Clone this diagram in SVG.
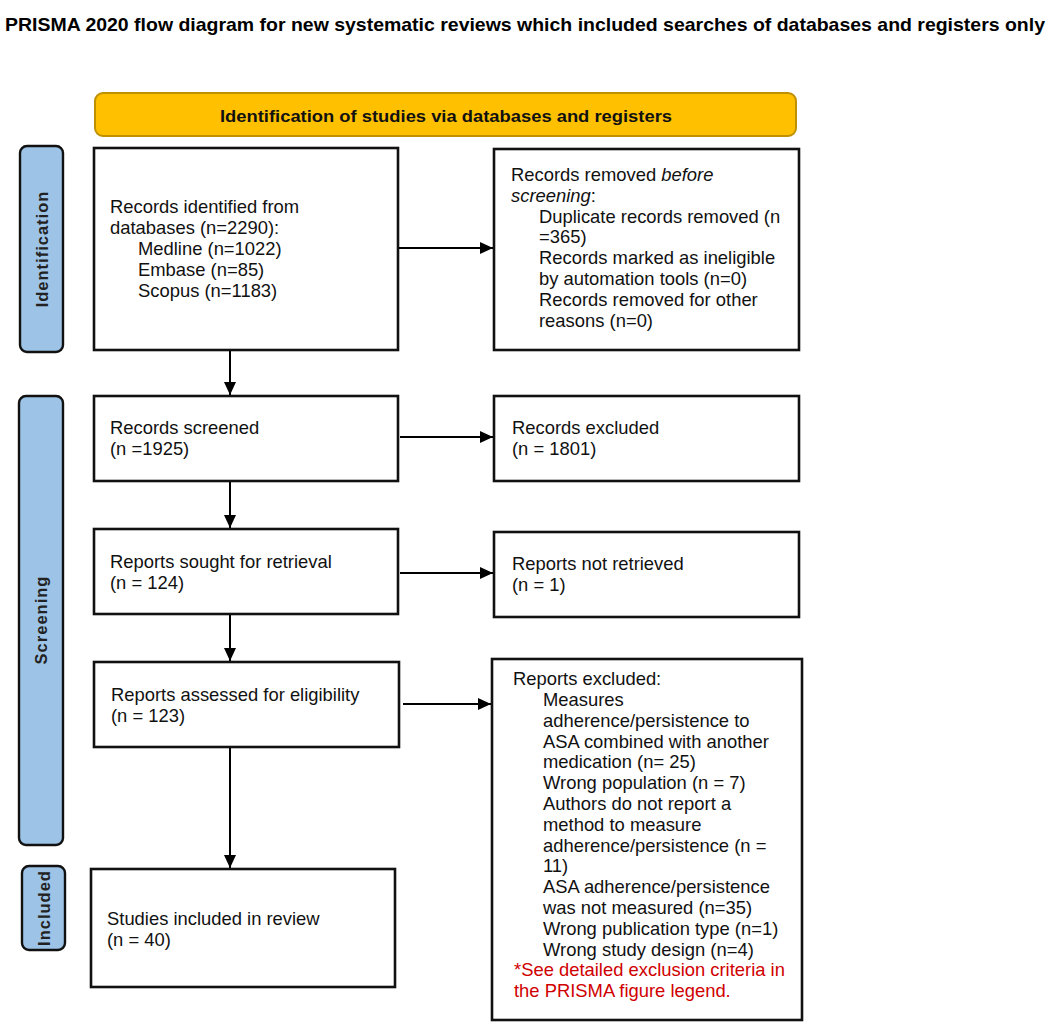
<svg xmlns="http://www.w3.org/2000/svg" width="1052" height="1028" viewBox="0 0 1052 1028">
<style>
.box{fill:#ffffff;stroke:#111111;stroke-width:2.6}
.bar{fill:#9DC3E6;stroke:#111111;stroke-width:2.4}
.t{font-family:"Liberation Sans",Arial,sans-serif;font-size:18.4px;fill:#111111}
.side{font-family:"Liberation Sans",Arial,sans-serif;font-size:16.5px;font-weight:bold;fill:#222222;letter-spacing:1px}
.red{fill:#D00000}
.conn{stroke:#000000;stroke-width:2;fill:none}
</style>
<defs>
<marker id="ah" viewBox="0 0 13 12" refX="13" refY="6" markerWidth="13" markerHeight="12" markerUnits="userSpaceOnUse" orient="auto">
<path d="M0,0 L13,6 L0,12 z" fill="#000000"/>
</marker>
</defs>
<rect width="1052" height="1028" fill="#ffffff"/>
<g id="title">
<text x="5" y="31" font-family="'Liberation Sans',Arial,sans-serif" font-size="19" font-weight="bold" fill="#000000" textLength="1040" lengthAdjust="spacingAndGlyphs">PRISMA 2020 flow diagram for new systematic reviews which included searches of databases and registers only</text>
</g>
<g id="banner">
<rect x="95" y="93" width="701" height="43" rx="8" fill="#FFC000" stroke="#BF9000" stroke-width="2"/>
<text x="220" y="122" font-family="'Liberation Sans',Arial,sans-serif" font-size="16.5" font-weight="bold" fill="#111111" textLength="452" lengthAdjust="spacingAndGlyphs">Identification of studies via databases and registers</text>
</g>
<g id="phase-identification">
<rect class="bar" x="20" y="146" width="43" height="206" rx="7"/>
<text class="side" transform="translate(41.5,249) rotate(-90)" text-anchor="middle" dominant-baseline="central">Identification</text>
</g>
<g id="phase-screening">
<rect class="bar" x="19" y="396" width="44" height="449" rx="7"/>
<text class="side" transform="translate(41,620) rotate(-90)" text-anchor="middle" dominant-baseline="central">Screening</text>
</g>
<g id="phase-included">
<rect class="bar" x="22" y="866" width="43" height="84" rx="7"/>
<text class="side" transform="translate(43.5,908) rotate(-90)" text-anchor="middle" dominant-baseline="central">Included</text>
</g>
<g id="records-identified">
<rect class="box" x="94" y="148" width="304" height="202"/>
<text class="t" x="110" y="213">Records identified from</text>
<text class="t" x="110" y="234">databases (n=2290):</text>
<text class="t" x="138" y="255">Medline (n=1022)</text>
<text class="t" x="138" y="276">Embase (n=85)</text>
<text class="t" x="138" y="297">Scopus (n=1183)</text>
</g>
<g id="records-removed">
<rect class="box" x="494" y="149" width="305" height="201"/>
<text class="t" x="511" y="181">Records removed <tspan font-style="italic">before</tspan></text>
<text class="t" x="511" y="202"><tspan font-style="italic">screening</tspan>:</text>
<text class="t" x="539" y="223">Duplicate records removed (n</text>
<text class="t" x="539" y="243">=365)</text>
<text class="t" x="539" y="264">Records marked as ineligible</text>
<text class="t" x="539" y="285">by automation tools (n=0)</text>
<text class="t" x="539" y="306">Records removed for other</text>
<text class="t" x="539" y="327">reasons (n=0)</text>
</g>
<g id="records-screened">
<rect class="box" x="94" y="396" width="304" height="85"/>
<text class="t" x="110" y="434">Records screened</text>
<text class="t" x="110" y="455">(n =1925)</text>
</g>
<g id="records-excluded">
<rect class="box" x="494" y="396" width="305" height="85"/>
<text class="t" x="512" y="434">Records excluded</text>
<text class="t" x="512" y="455">(n = 1801)</text>
</g>
<g id="reports-sought">
<rect class="box" x="94" y="529" width="304" height="85"/>
<text class="t" x="110" y="568">Reports sought for retrieval</text>
<text class="t" x="110" y="589">(n = 124)</text>
</g>
<g id="reports-not-retrieved">
<rect class="box" x="494" y="532" width="305" height="85"/>
<text class="t" x="512" y="570">Reports not retrieved</text>
<text class="t" x="512" y="591">(n = 1)</text>
</g>
<g id="reports-assessed">
<rect class="box" x="94" y="662" width="305" height="85"/>
<text class="t" x="111" y="701">Reports assessed for eligibility</text>
<text class="t" x="111" y="722">(n = 123)</text>
</g>
<g id="reports-excluded">
<rect class="box" x="492" y="659" width="310" height="361"/>
<text class="t" x="513" y="685">Reports excluded:</text>
<text class="t" x="543" y="706">Measures</text>
<text class="t" x="543" y="727">adherence/persistence to</text>
<text class="t" x="543" y="748">ASA combined with another</text>
<text class="t" x="543" y="768">medication (n= 25)</text>
<text class="t" x="543" y="789">Wrong population (n = 7)</text>
<text class="t" x="543" y="810">Authors do not report a</text>
<text class="t" x="543" y="831">method to measure</text>
<text class="t" x="543" y="852">adherence/persistence (n =</text>
<text class="t" x="543" y="872">11)</text>
<text class="t" x="543" y="893">ASA adherence/persistence</text>
<text class="t" x="543" y="914">was not measured (n=35)</text>
<text class="t" x="543" y="935">Wrong publication type (n=1)</text>
<text class="t" x="543" y="956">Wrong study design (n=4)</text>
<text class="t red" x="514" y="976">*See detailed exclusion criteria in</text>
<text class="t red" x="514" y="997">the PRISMA figure legend.</text>
</g>
<g id="studies-included">
<rect class="box" x="91" y="869" width="304" height="118"/>
<text class="t" x="107" y="925">Studies included in review</text>
<text class="t" x="107" y="946">(n = 40)</text>
</g>
<g id="connectors">
<line class="conn" x1="230" y1="351" x2="230" y2="395" marker-end="url(#ah)"/>
<line class="conn" x1="399" y1="248" x2="493" y2="248" marker-end="url(#ah)"/>
<line class="conn" x1="230" y1="482" x2="230" y2="528" marker-end="url(#ah)"/>
<line class="conn" x1="400" y1="437" x2="493" y2="437" marker-end="url(#ah)"/>
<line class="conn" x1="230" y1="615" x2="230" y2="661" marker-end="url(#ah)"/>
<line class="conn" x1="400" y1="573" x2="493" y2="573" marker-end="url(#ah)"/>
<line class="conn" x1="230" y1="748" x2="230" y2="868" marker-end="url(#ah)"/>
<line class="conn" x1="403" y1="704" x2="491" y2="704" marker-end="url(#ah)"/>
</g>
</svg>
